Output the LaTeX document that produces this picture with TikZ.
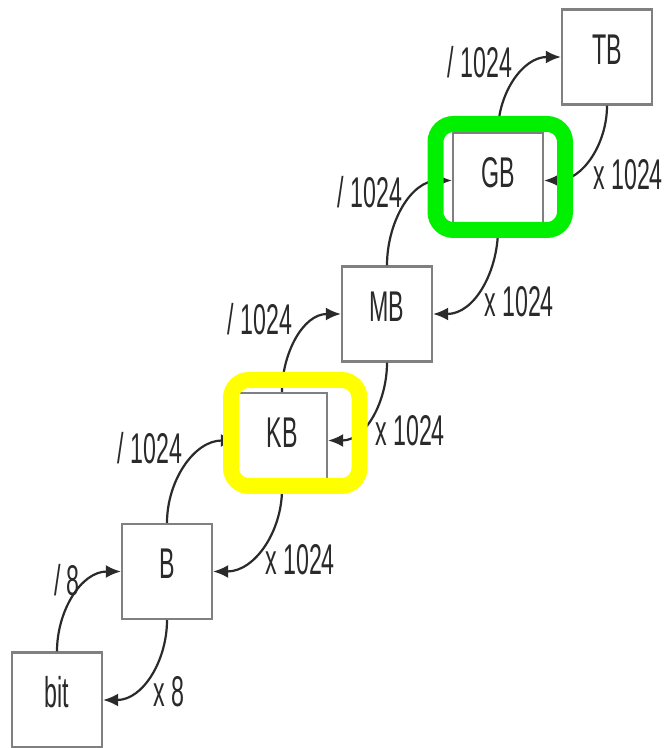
\documentclass[tikz,border=0pt]{standalone}
\usepackage{fontspec}
\setmainfont{Liberation Sans}
\usepackage{graphicx}
\usetikzlibrary{arrows.meta}
\definecolor{boxgray}{HTML}{808080}
\definecolor{txtgray}{HTML}{2A2A2A}
\definecolor{hlyellow}{HTML}{FFFF00}
\definecolor{hlgreen}{HTML}{00F000}
\newcommand{\sq}[1]{\scalebox{0.54}[1]{#1}}
\begin{document}
\begin{tikzpicture}[x=1pt,y=1pt,
  unitbox/.style={draw=boxgray, line width=2.4pt, fill=white, minimum width=90pt, minimum height=95pt, inner sep=0pt, font=\fontsize{43}{48}\selectfont, text=txtgray, text height=31pt, text depth=16pt},
  lbl/.style={font=\fontsize{43}{48}\selectfont, text=txtgray, inner sep=0pt},
  conv/.style={draw=txtgray, line width=2.2pt, -{Latex[length=15pt,width=13pt]}},
  hl/.style={line width=16pt, rounded corners=18pt}]
\fill[white] (0,0) rectangle (666,748);
\useasboundingbox (0,0) rectangle (666,748);

\node[unitbox] (bit) at (57,48) {\sq{bit}};
\node[unitbox] (B) at (167,176.5) {\sq{B}};
\node[unitbox] (KB) at (282,307.5) {\sq{KB}};
\node[unitbox] (MB) at (387,434) {\sq{MB}};
\node[unitbox] (GB) at (498,567.5) {\sq{GB}};
\node[unitbox] (TB) at (607,691) {\sq{TB}};

\draw[conv] (bit.north) to[out=90,in=180] (B.west);
\draw[conv] (B.south) to[out=-90,in=0] (bit.east);
\draw[conv] (B.north) to[out=90,in=180] (KB.west);
\draw[conv] (KB.south) to[out=-90,in=0] (B.east);
\draw[conv] (KB.north) to[out=90,in=180] (MB.west);
\draw[conv] (MB.south) to[out=-90,in=0] (KB.east);
\draw[conv] (MB.north) to[out=90,in=180] (GB.west);
\draw[conv] (GB.south) to[out=-90,in=0] (MB.east);
\draw[conv] (GB.north) to[out=90,in=180] (TB.west);
\draw[conv] (TB.south) to[out=-90,in=0] (GB.east);

\node[lbl] (l1) at (67,168) {\sq{/ 8}};
\node[lbl] (l2) at (169,56) {\sq{x 8}};
\node[lbl] (l3) at (150,300) {\sq{/ 1024}};
\node[lbl] (l4) at (300,188) {\sq{x 1024}};
\node[lbl] (l5) at (260,429) {\sq{/ 1024}};
\node[lbl] (l6) at (410,317) {\sq{x 1024}};
\node[lbl] (l7) at (370,556) {\sq{/ 1024}};
\node[lbl] (l8) at (519,446) {\sq{x 1024}};
\node[lbl] (l9) at (480,686) {\sq{/ 1024}};
\node[lbl] (l10) at (628,573) {\sq{x 1024}};

\draw[hl, draw=hlyellow] (231,262) rectangle (359.5,368);
\draw[hl, draw=hlgreen] (435.5,518) rectangle (565,624);
\end{tikzpicture}
\end{document}
